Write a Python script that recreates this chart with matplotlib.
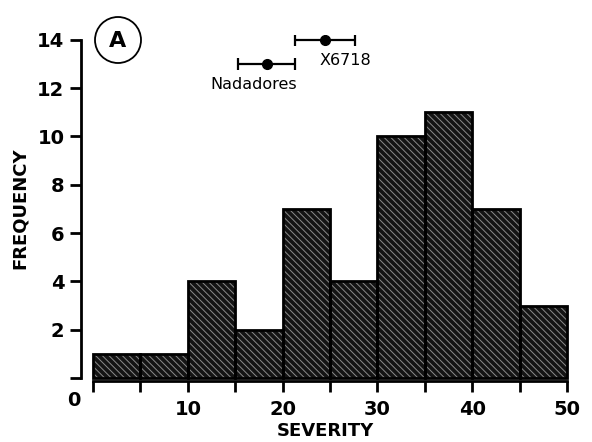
import matplotlib.pyplot as plt
from matplotlib.patches import Ellipse

# histogram data
bin_left = [0, 5, 10, 15, 20, 25, 30, 35, 40, 45]
counts = [1, 1, 4, 2, 7, 4, 10, 11, 7, 3]
bin_width = 5

# parent lines (mean with range)
parents = ["Nadadores", "X6718"]
parent_mean = [18.3, 24.5]
parent_lo = [15.3, 21.3]
parent_hi = [21.3, 27.6]
parent_y = [13, 14]

x_ticks = [0, 5, 10, 15, 20, 25, 30, 35, 40, 45, 50]
x_labels = ["", "", "10", "", "20", "", "30", "", "40", "", "50"]
y_ticks = [0, 2, 4, 6, 8, 10, 12, 14]
y_labels = ["", "2", "4", "6", "8", "10", "12", "14"]

plt.rcParams['font.family'] = ['DejaVu Sans']
plt.rcParams['hatch.linewidth'] = 0.7

fig = plt.figure(figsize=(5.92, 4.42), dpi=100)
ax = fig.add_axes([81 / 592, 1 - 380.5 / 442, 488 / 592, 345.5 / 442])

# dark hatched fill, then black outline on top
ax.bar(bin_left, counts, width=bin_width, align='edge', color='#141414',
       edgecolor='#8a8a8a', hatch='\\\\\\\\\\', linewidth=0)
ax.bar(bin_left, counts, width=bin_width, align='edge', fill=False,
       edgecolor='black', linewidth=2)

# parent means with ranges
for name, m, lo, hi, yy in zip(parents, parent_mean, parent_lo, parent_hi, parent_y):
    ax.errorbar(m, yy, xerr=[[m - lo], [hi - m]], fmt='o', color='black',
                ms=7, elinewidth=1.6, capsize=4, capthick=1.6)
ax.text(16.9, 12.45, parents[0], ha='center', va='top', fontsize=11.5)
ax.text(26.6, 13.45, parents[1], ha='center', va='top', fontsize=11.5)

ax.set_xlim(-1.27, 50.2)
ax.set_ylim(-0.1, 14.2)

for s in ['top', 'right']:
    ax.spines[s].set_visible(False)
ax.spines['left'].set_bounds(0, 14)
ax.spines['bottom'].set_bounds(0, 50)
ax.spines['left'].set_linewidth(2)
ax.spines['bottom'].set_linewidth(2)

ax.set_xticks(x_ticks)
ax.set_xticklabels(x_labels)
ax.set_yticks(y_ticks)
ax.set_yticklabels(y_labels)
ax.tick_params(direction='out', length=8, width=2, labelsize=14)
ax.tick_params(axis='x', pad=6)
ax.tick_params(axis='y', pad=4)
for lab in ax.get_xticklabels() + ax.get_yticklabels():
    lab.set_fontweight('bold')

# shared origin label
ax.text(-2.0, -0.55, "0", ha='center', va='top', fontsize=14, fontweight='bold')

ax.set_xlabel("SEVERITY", fontsize=13, fontweight='bold', labelpad=2)
ax.set_ylabel("FREQUENCY", fontsize=13, fontweight='bold', labelpad=6)

# panel marker
circ = Ellipse((118 / 592, 1 - 40 / 442), 46 / 592, 46 / 442, transform=fig.transFigure,
               fill=False, edgecolor='black', linewidth=1.3)
fig.patches.append(circ)
fig.text(118 / 592, 1 - 41 / 442, "A", ha='center', va='center', fontsize=16,
         fontweight='bold')

fig.savefig("out.png", dpi=100)
